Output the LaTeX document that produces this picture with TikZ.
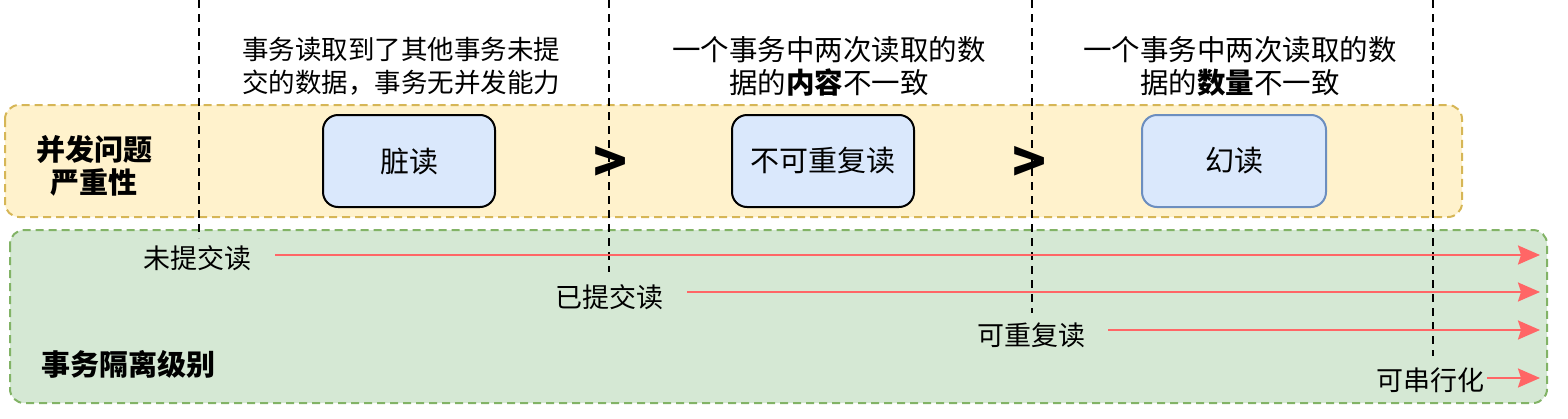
\documentclass[tikz,border=0pt]{standalone}
\usepackage{fontspec}
\setmainfont{Noto Sans CJK SC}
\usetikzlibrary{arrows.meta}
\definecolor{yfill}{HTML}{FFF2CC}
\definecolor{ydraw}{HTML}{D6B656}
\definecolor{gfill}{HTML}{D5E8D4}
\definecolor{gdraw}{HTML}{82B366}
\definecolor{bfill}{HTML}{DAE8FC}
\definecolor{bdraw}{HTML}{6C8EBF}
\definecolor{ared}{HTML}{FF6666}
\begin{document}
\begin{tikzpicture}[x=1pt,y=-1pt,
  zone/.style={rounded corners=14pt, dash pattern=on 8pt off 5pt, line width=2pt},
  issue/.style={draw, rounded corners=15pt, fill=bfill, line width=2pt, minimum width=172pt, minimum height=92pt, inner sep=0pt, font=\fontsize{29}{33}\selectfont},
  guide/.style={dash pattern=on 8pt off 6pt, line width=2pt},
  lvl/.style={inner sep=0pt, font=\fontsize{27}{30}\selectfont},
  lvlarrow/.style={draw=ared, line width=2.2pt, -{Stealth[length=22pt,width=19pt,inset=3pt]}},
  desc/.style={align=center, inner sep=0pt, font=\fontsize{26.5}{33}\selectfont},
  descb/.style={align=center, inner sep=0pt, font=\fontsize{28.5}{33}\selectfont},
  ttl/.style={align=center, inner sep=0pt, font=\fontsize{29}{33}\bfseries\selectfont},
  gt/.style={inner sep=0pt, font=\fontsize{56}{56}\bfseries\selectfont}
]
\useasboundingbox (0,0) rectangle (1568,418);
% zones
\draw[zone, draw=gdraw, fill=gfill] (10,230) rectangle (1547,403);
\draw[zone, draw=ydraw, fill=yfill] (5,105) rectangle (1462,217);
% titles
\node[ttl] (t1) at (94,166) {并发问题\\严重性};
\node[ttl] (t2) at (128,364) {事务隔离级别};
% issues
\node[issue] (dirty) at (409,161) {脏读};
\node[issue, minimum width=182pt] (nonrep) at (823,161) {不可重复读};
\node[issue, minimum width=184pt, draw=bdraw] (phantom) at (1234,161) {幻读};
\node[gt] (gt1) at (611,164) {>};
\node[gt] (gt2) at (1030,164) {>};
% descriptions
\node[desc] (d1) at (401,66) {事务读取到了其他事务未提\\交的数据，事务无并发能力};
\node[descb] (d2) at (829,66) {一个事务中两次读取的数\\据的\textbf{内容}不一致};
\node[descb] (d3) at (1240,66) {一个事务中两次读取的数\\据的\textbf{数量}不一致};
% guides
\coordinate (g1a) at (199,0); \coordinate (g1b) at (199,238);
\coordinate (g2a) at (609,0); \coordinate (g2b) at (609,272);
\coordinate (g3a) at (1032,0); \coordinate (g3b) at (1032,313);
\coordinate (g4a) at (1433,0); \coordinate (g4b) at (1433,356);
\draw[guide] (g1a) -- (g1b);
\draw[guide] (g2a) -- (g2b);
\draw[guide] (g3a) -- (g3b);
\draw[guide] (g4a) -- (g4b);
% levels
\node[lvl] (l1) at (197,258) {未提交读};
\node[lvl] (l2) at (609,297) {已提交读};
\node[lvl] (l3) at (1031,335) {可重复读};
\node[lvl] (l4) at (1430,380) {可串行化};
\coordinate (s1) at (275,255); \coordinate (e1) at (1540,255);
\coordinate (s2) at (687,292); \coordinate (e2) at (1540,292);
\coordinate (s3) at (1108,330); \coordinate (e3) at (1540,330);
\coordinate (s4) at (1487,378); \coordinate (e4) at (1540,378);
\draw[lvlarrow] (s1) -- (e1);
\draw[lvlarrow] (s2) -- (e2);
\draw[lvlarrow] (s3) -- (e3);
\draw[lvlarrow] (s4) -- (e4);
\end{tikzpicture}
\end{document}
